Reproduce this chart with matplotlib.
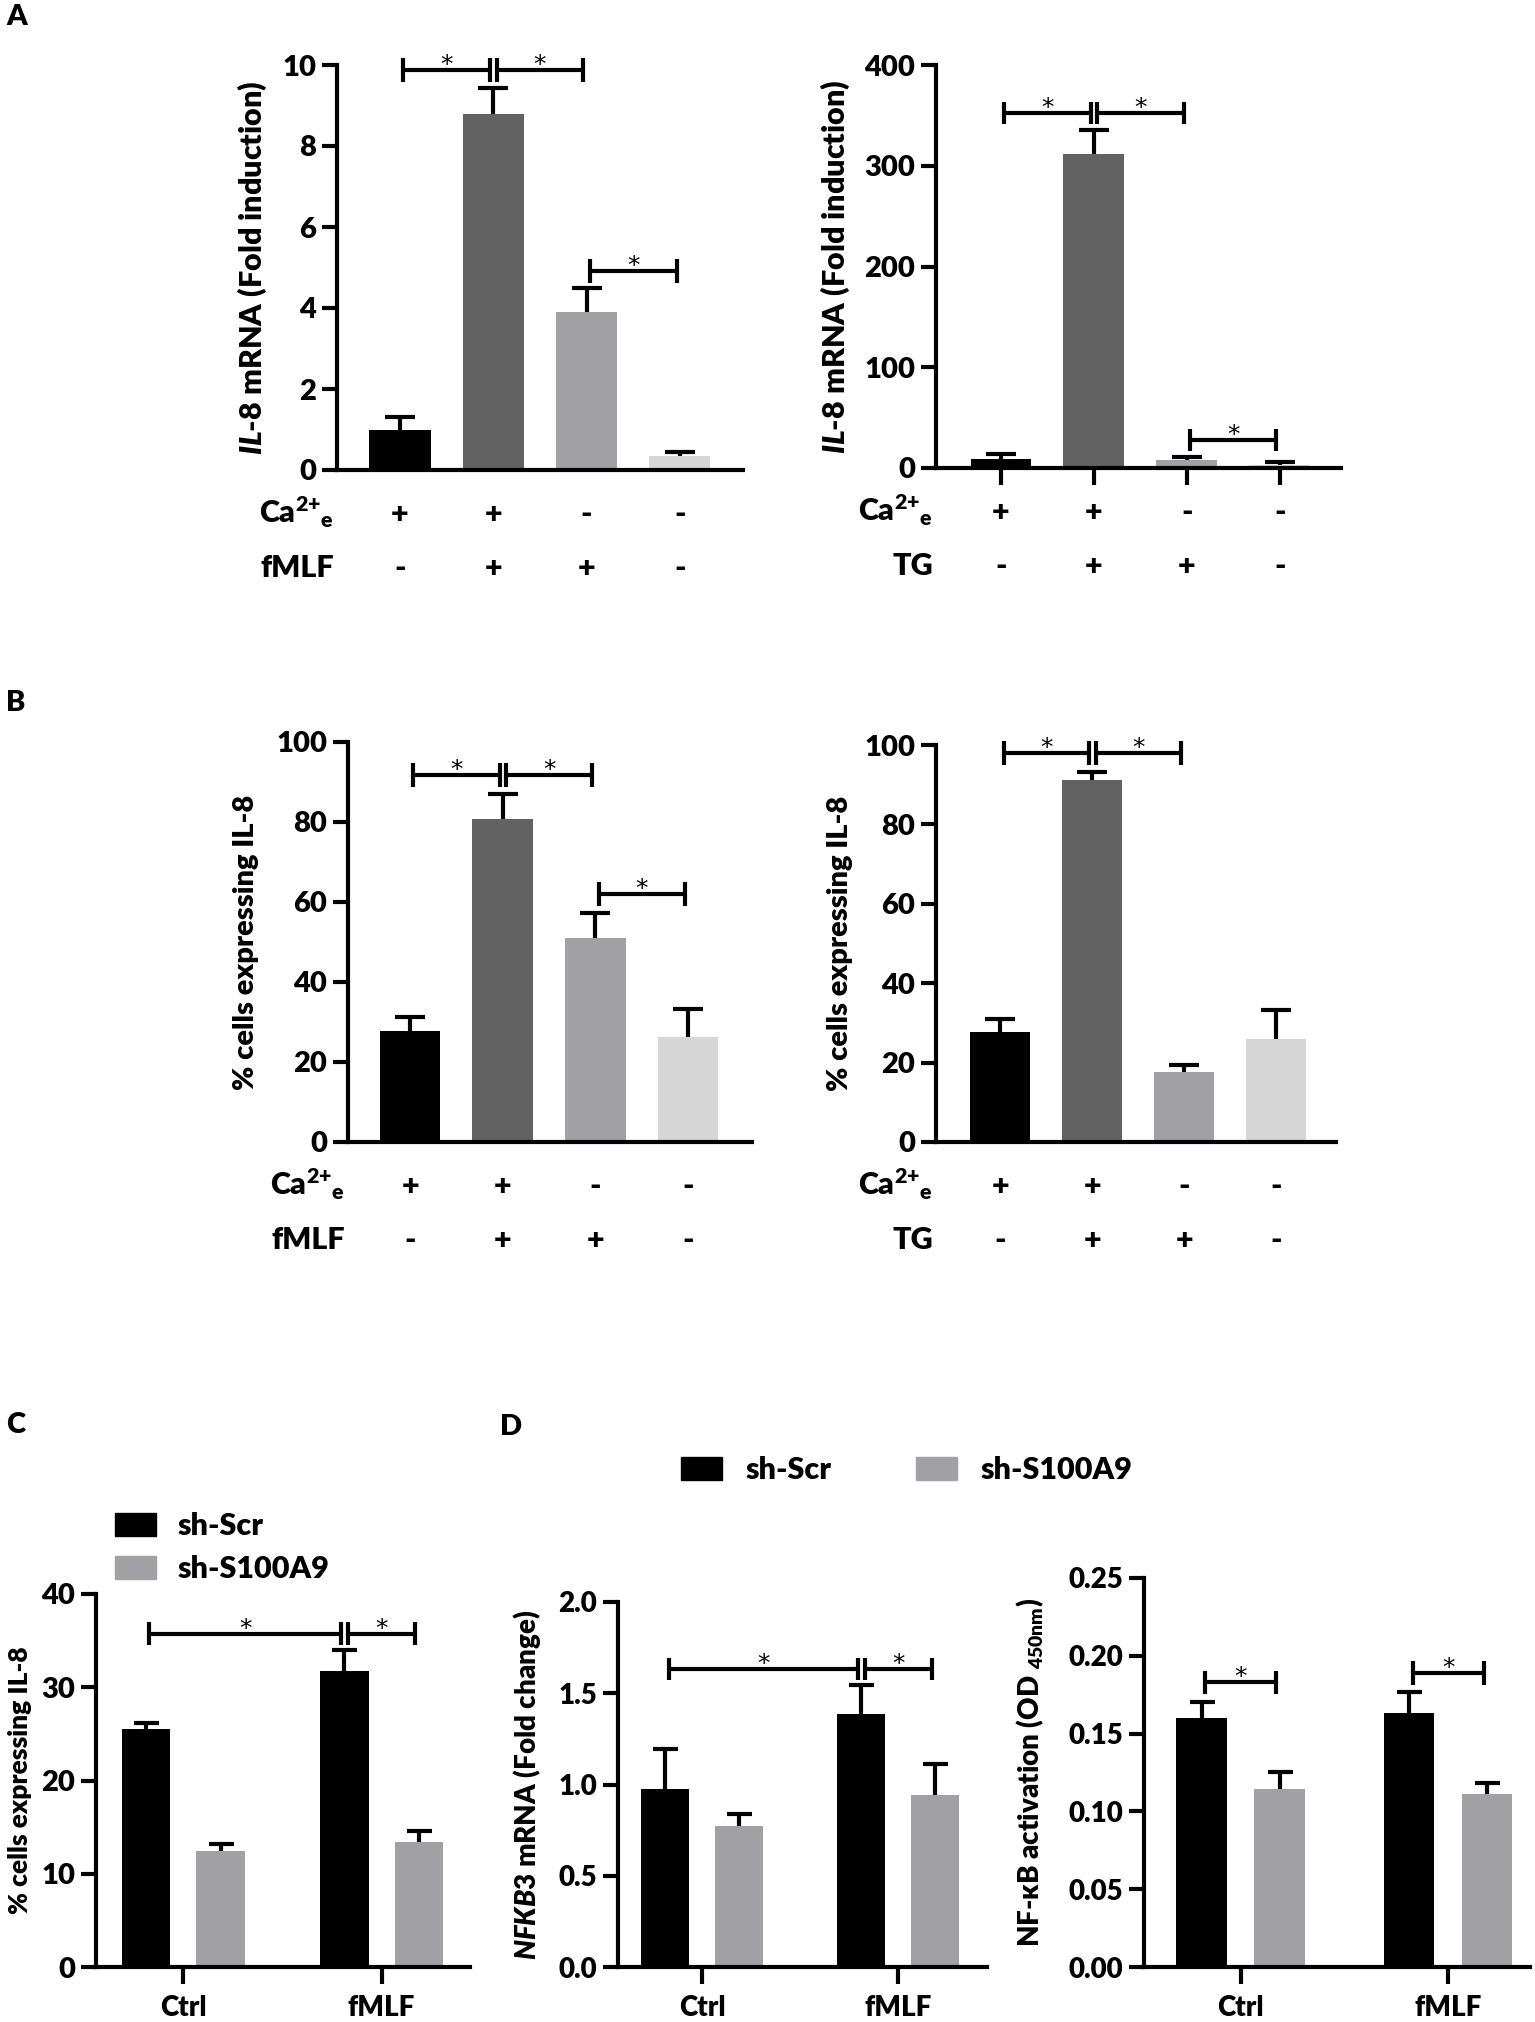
# IL-8 / NF-kB bar panels (A-D) redrawn with matplotlib

import numpy as np
import matplotlib
matplotlib.use('Agg')
import matplotlib.pyplot as plt
from matplotlib.patches import Patch

plt.rcParams['font.family'] = ['Lato', 'DejaVu Sans']
plt.rcParams['font.weight'] = 'heavy'
plt.rcParams['mathtext.fontset'] = 'custom'
plt.rcParams['mathtext.rm'] = 'Lato:heavy'
plt.rcParams['mathtext.bf'] = 'Lato:heavy'
plt.rcParams['mathtext.it'] = 'Lato:heavy:italic'
plt.rcParams['axes.linewidth'] = 3

# ---- data ----
# panels A and B: four conditions
ca_signs = ['+', '+', '-', '-']
fmlf_signs = ['-', '+', '+', '-']
tg_signs = ['-', '+', '+', '-']
cond_colors = ['#000000', '#626262', '#a1a1a5', '#d6d6d6']

mrna_fmlf = [1.0, 8.8, 3.9, 0.35]
mrna_fmlf_err = [0.3, 0.63, 0.6, 0.09]
mrna_tg = [9.0, 312, 8.3, 2.5]
mrna_tg_err = [4.5, 23, 2.7, 3.2]

cells_fmlf = [27.8, 80.7, 51.0, 26.3]
cells_fmlf_err = [3.4, 6.2, 6.3, 6.9]
cells_tg = [27.7, 91.3, 17.7, 26.0]
cells_tg_err = [3.3, 2.0, 1.8, 7.2]

# panels C and D: two groups x two shRNA
groups = ['Ctrl', 'fMLF']
series = ['sh-Scr', 'sh-S100A9']
series_colors = ['#000000', '#a1a1a5']

c_scr = [25.5, 31.7]
c_scr_err = [0.7, 2.3]
c_s100 = [12.4, 13.4]
c_s100_err = [0.8, 1.2]

nfkb3_scr = [0.975, 1.385]
nfkb3_scr_err = [0.22, 0.16]
nfkb3_s100 = [0.775, 0.945]
nfkb3_s100_err = [0.065, 0.165]

nfkb_scr = [0.160, 0.163]
nfkb_scr_err = [0.010, 0.0135]
nfkb_s100 = [0.1145, 0.111]
nfkb_s100_err = [0.011, 0.0075]

# significance brackets: (bar a, bar b, height)
sig_a1 = [(0, 1, 9.88), (1, 2, 9.88), (2, 3, 4.92)]
sig_a2 = [(0, 1, 352), (1, 2, 352), (2, 3, 27.6)]
sig_b1 = [(0, 1, 91.8), (1, 2, 91.8), (2, 3, 62.0)]
sig_b2 = [(0, 1, 98.0), (1, 2, 98.0)]
# grouped bars are numbered scr-Ctrl, s100-Ctrl, scr-fMLF, s100-fMLF
sig_c = [(0, 2, 35.75), (2, 3, 35.75)]
sig_d1 = [(0, 2, 1.635), (2, 3, 1.635)]
sig_d2 = [(0, 1, 0.183), (2, 3, 0.189)]

W, H = 1535, 2022
fig = plt.figure(figsize=(W / 100, H / 100), dpi=100)


def add_ax(x0, x1, ytop, ybot):
    # axes placed by pixel box of the plotting area
    ax = fig.add_axes([x0 / W, 1 - ybot / H, (x1 - x0) / W, (ybot - ytop) / H])
    ax.spines['top'].set_visible(False)
    ax.spines['right'].set_visible(False)
    ax.patch.set_alpha(0)
    return ax


def draw_bars(ax, x, vals, errs, colors, width, capw):
    x = np.asarray(x, dtype=float)
    vals = np.asarray(vals, dtype=float)
    top = vals + np.asarray(errs, dtype=float)
    ax.bar(x, vals, width, color=colors, zorder=2)
    ax.vlines(x, vals, top, color='black', lw=3, zorder=3)
    ax.plot(x, top, ls='none', marker='_', ms=capw, mew=3, color='black', zorder=3)


def brackets(ax, xs, sig, cap, gap):
    for a, b, y in sig:
        xa, xb = xs[a] + gap, xs[b] - gap
        kw = dict(color='black', lw=3, solid_capstyle='butt', clip_on=False)
        ax.plot([xa, xa], [y - cap, y + cap], **kw)
        ax.plot([xb, xb], [y - cap, y + cap], **kw)
        ax.plot([xa, xb], [y, y], **kw)
        ax.annotate('*', xy=((xa + xb) / 2, y), xytext=(0, -1.5), textcoords='offset points',
                    ha='center', va='baseline', fontsize=18, fontweight='normal',
                    family='DejaVu Sans')


def cond_rows(ax, rows, size=22):
    for k, (name, signs) in enumerate(rows):
        dy = -(38 + 39 * k)
        ax.annotate(name, xy=(0, 0), xycoords='axes fraction', xytext=(-2, dy),
                    textcoords='offset points', ha='right', va='baseline', fontsize=size)
        for i, s in enumerate(signs):
            ax.annotate(s, xy=(i, 0), xycoords=('data', 'axes fraction'), xytext=(0, dy),
                        textcoords='offset points', ha='center', va='baseline', fontsize=size)


def ylab(ax, text, xpix, x0, x1, size):
    ax.text((xpix - x0) / (x1 - x0), 0.5, text, transform=ax.transAxes, rotation=90,
            ha='center', va='center', fontsize=size)


ca_label = r'$\mathbf{Ca}^{\text{2+}}{}_{\text{e}}$'
il8_label = r'$\mathit{IL}$-$\mathit{8}$ mRNA (Fold induction)'
cells_label = '% cells expressing IL-8'
cond_x = np.arange(4)

# ---- panel A ----
box = (337, 743, 65, 470)
ax = add_ax(*box)
draw_bars(ax, cond_x, mrna_fmlf, mrna_fmlf_err, cond_colors, 0.655, 21)
brackets(ax, cond_x, sig_a1, 0.3, 0.035)
ax.set_xlim(-0.675, 3.676)
ax.set_ylim(0, 10)
ax.set_yticks([0, 2, 4, 6, 8, 10])
ax.tick_params(axis='y', length=11, width=3, pad=4, labelsize=21)
ax.tick_params(axis='x', length=0, labelbottom=False)
ylab(ax, il8_label, 252, box[0], box[1], 22)
cond_rows(ax, [(ca_label, ca_signs), ('fMLF', fmlf_signs)])

box = (936, 1341, 65, 468)
ax = add_ax(*box)
draw_bars(ax, cond_x, mrna_tg, mrna_tg_err, cond_colors, 0.655, 21)
brackets(ax, cond_x, sig_a2, 11, 0.035)
ax.set_xlim(-0.70, 3.66)
ax.set_ylim(0, 400)
ax.set_yticks([0, 100, 200, 300, 400])
ax.set_xticks(cond_x)
ax.tick_params(axis='y', length=11, width=3, pad=4, labelsize=21)
ax.tick_params(axis='x', length=12, width=3, labelbottom=False)
ylab(ax, il8_label, 835, box[0], box[1], 22)
cond_rows(ax, [(ca_label, ca_signs), ('TG', tg_signs)])

# ---- panel B ----
box = (348, 752, 742, 1142)
ax = add_ax(*box)
draw_bars(ax, cond_x, cells_fmlf, cells_fmlf_err, cond_colors, 0.655, 21)
brackets(ax, cond_x, sig_b1, 3, 0.035)
ax.set_xlim(-0.67, 3.69)
ax.set_ylim(0, 100)
ax.set_yticks([0, 20, 40, 60, 80, 100])
ax.tick_params(axis='y', length=11, width=3, pad=4, labelsize=21)
ax.tick_params(axis='x', length=0, labelbottom=False)
ylab(ax, cells_label, 246, box[0], box[1], 21)
cond_rows(ax, [(ca_label, ca_signs), ('fMLF', fmlf_signs)])

box = (936, 1336, 745, 1142)
ax = add_ax(*box)
draw_bars(ax, cond_x, cells_tg, cells_tg_err, cond_colors, 0.655, 21)
brackets(ax, cond_x, sig_b2, 3, 0.035)
ax.set_xlim(-0.70, 3.65)
ax.set_ylim(0, 100)
ax.set_yticks([0, 20, 40, 60, 80, 100])
ax.tick_params(axis='y', length=11, width=3, pad=4, labelsize=21)
ax.tick_params(axis='x', length=0, labelbottom=False)
ylab(ax, cells_label, 840, box[0], box[1], 21)
cond_rows(ax, [(ca_label, ca_signs), ('TG', tg_signs)])


# ---- panels C and D (grouped) ----
def grouped(box, xlim, scr, scr_err, s100, s100_err, sig, ylim, yticks, fmt, cap, ysize):
    ax = add_ax(*box)
    g = np.arange(len(groups))
    off, width = 0.188, 0.245
    draw_bars(ax, g - off, scr, scr_err, series_colors[0], width, 18)
    draw_bars(ax, g + off, s100, s100_err, series_colors[1], width, 18)
    xs = [g[0] - off, g[0] + off, g[1] - off, g[1] + off]
    brackets(ax, xs, sig, cap, 0.017)
    ax.set_xlim(*xlim)
    ax.set_ylim(*ylim)
    ax.set_yticks(yticks)
    ax.set_yticklabels([fmt % v for v in yticks])
    ax.set_xticks(g)
    ax.set_xticklabels(groups)
    ax.tick_params(axis='y', length=11, width=3, pad=4, labelsize=ysize)
    ax.tick_params(axis='x', length=12, width=3, pad=8, labelsize=20)
    return ax


box = (96, 470, 1594, 1967)
ax = grouped(box, (-0.44, 1.446), c_scr, c_scr_err, c_s100, c_s100_err, sig_c,
             (0, 40), [0, 10, 20, 30, 40], '%d', 1.2, 21)
ylab(ax, cells_label, 20, box[0], box[1], 19)
handles = [Patch(color=c) for c in series_colors]
ax.legend(handles, series, loc='upper left', bbox_to_anchor=(115 / W, 1 - 1512 / H),
          bbox_transform=fig.transFigure, frameon=False, borderpad=0, borderaxespad=0,
          handlelength=1.34, handleheight=0.75, handletextpad=0.72, labelspacing=0.5,
          fontsize=22)

box = (618, 987, 1602, 1967)
ax = grouped(box, (-0.43, 1.454), nfkb3_scr, nfkb3_scr_err, nfkb3_s100, nfkb3_s100_err,
             sig_d1, (0, 2), [0, 0.5, 1.0, 1.5, 2.0], '%.1f', 0.06, 20)
ylab(ax, r'$\mathit{NFKB3}$ mRNA (Fold change)', 527, box[0], box[1], 20)

box = (1144, 1530, 1578, 1967)
ax = grouped(box, (-0.466, 1.395), nfkb_scr, nfkb_scr_err, nfkb_s100, nfkb_s100_err,
             sig_d2, (0, 0.25), [0, 0.05, 0.10, 0.15, 0.20, 0.25], '%.2f', 0.0075, 20)
ylab(ax, r'NF-κB activation (OD $_{\text{450nm}}$)', 1030, box[0], box[1], 20)

fig.legend(handles, series, loc='upper left', bbox_to_anchor=(681 / W, 1 - 1456 / H),
           frameon=False, borderpad=0, borderaxespad=0, ncol=2, handlelength=1.34,
           handleheight=0.75, handletextpad=0.78, columnspacing=2.75, fontsize=22)

# panel letters
for letter, x, y in [('A', 6, 4), ('B', 6, 690), ('C', 6, 1412), ('D', 500, 1414)]:
    fig.text(x / W, 1 - y / H, letter, ha='left', va='top', fontsize=21)

fig.savefig('out.png', dpi=100)
